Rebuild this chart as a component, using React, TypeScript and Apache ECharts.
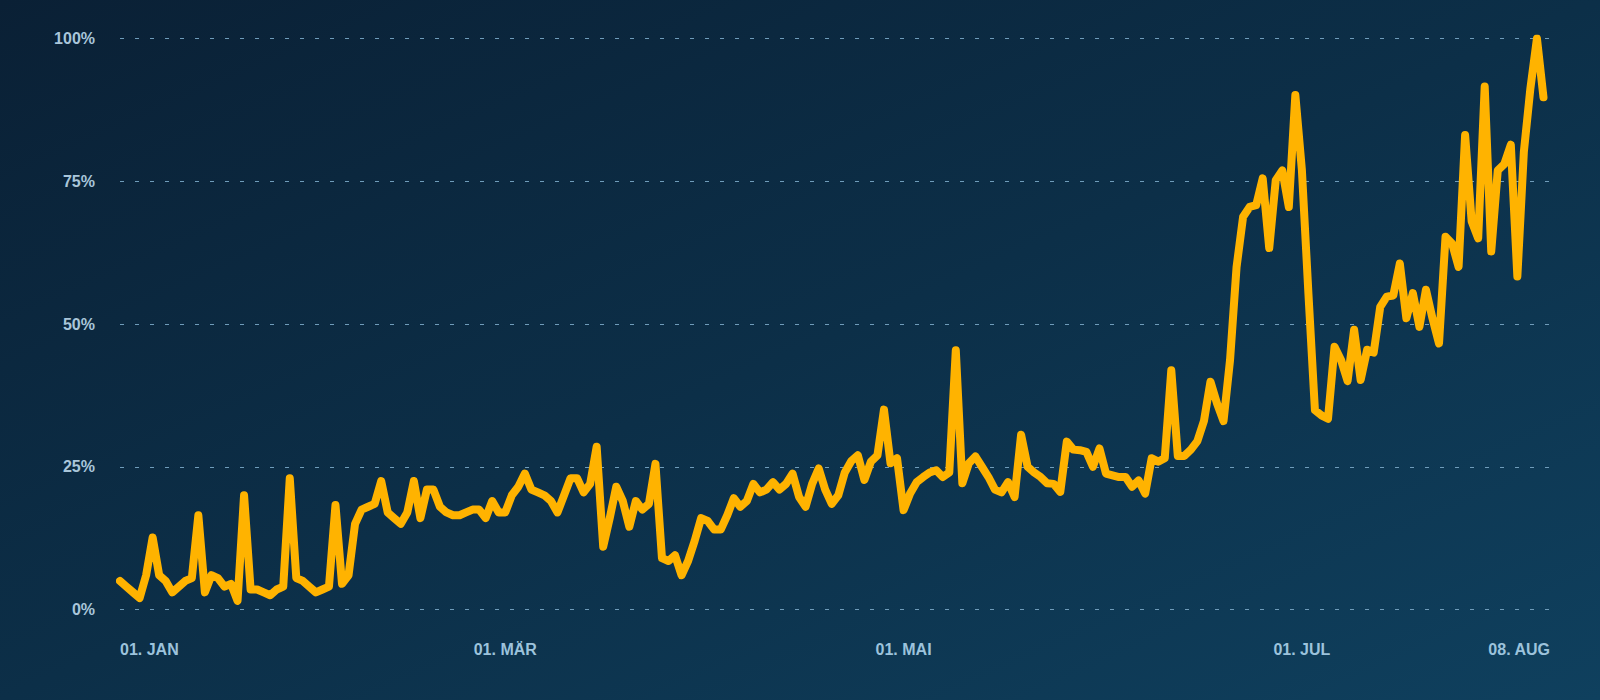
import React, { useEffect, useRef } from "react";
import * as echarts from "echarts";

// German month abbreviations and the number of days shown per month (Jan 1 – Aug 8)
const monthNames = ["JAN", "FEB", "MÄR", "APR", "MAI", "JUN", "JUL", "AUG"];
const monthDays = [31, 28, 31, 30, 31, 30, 31, 8];

// Tick labels shown on the x axis
const tickLabels = ["01. JAN", "01. MÄR", "01. MAI", "01. JUL", "08. AUG"];

// Y axis tick values (percent)
const yTicks = [0, 25, 50, 75, 100];

// Daily values (percent), Jan 1 – Aug 7
const values = [
  5, 4, 3, 2, 6, 12.6, 6, 5, 3, 4,
  5, 5.5, 16.5, 3, 6, 5.5, 4, 4.5, 1.5, 20,
  3.5, 3.5, 3, 2.5, 3.5, 4, 23, 5.5, 5, 4,
  3, 3.5, 4, 18.3, 4.5, 6, 15, 17.5, 18, 18.5,
  22.5, 17, 16, 15, 17, 22.5, 16, 21, 21, 18,
  17, 16.5, 16.5, 17, 17.5, 17.5, 16, 19, 17, 17,
  20, 21.5, 23.8, 21, 20.5, 20, 19, 17, 20, 23,
  23, 20.5, 22, 28.5, 11, 16, 21.5, 19, 14.5, 19,
  17.5, 18.5, 25.5, 9, 8.5, 9.5, 6, 8.5, 12, 16,
  15.5, 14, 14, 16.5, 19.5, 18, 19, 22, 20.5, 21,
  22.3, 21, 22, 23.8, 19.7, 18, 22, 24.7, 21, 18.5,
  20, 24, 26, 27, 22.7, 25.9, 27, 35, 25.6, 26.5,
  17.4, 20.3, 22.3, 23.2, 24, 24.4, 23.2, 24, 45.4, 22.1,
  25.6, 26.8, 25, 23.2, 21, 20.5, 22.3, 19.7, 30.6, 25,
  24, 23.2, 22.1, 22, 20.6, 29.4, 28, 27.9, 27.6, 25,
  28.2, 23.8, 23.5, 23.2, 23.2, 21.5, 22.6, 20.3, 26.5, 25.9,
  26.5, 41.9, 26.9, 26.9, 28, 29.5, 33, 39.9, 36.1, 33,
  43.7, 60, 68.8, 70.5, 70.8, 75.5, 63.3, 75.2, 76.9, 70.5,
  90.1, 77, 55.4, 34.9, 34, 33.4, 46, 43.7, 40, 49,
  40.2, 45.5, 45, 53, 54.8, 55, 60.6, 51, 55.4, 49.5,
  56, 51, 46.6, 65.3, 64.1, 60, 83.1, 68, 65, 91.6,
  62.7, 76.9, 78, 81.4, 58.3, 80.2, 91.3, 100, 89.7,
];

// Build the day categories ("01. JAN", "02. JAN", ...)
const categories: string[] = [];
monthNames.forEach((m, mi) => {
  for (let d = 1; d <= monthDays[mi]; d++) {
    categories.push(`${String(d).padStart(2, "0")}. ${m}`);
  }
});

export default function App() {
  const ref = useRef<HTMLDivElement>(null);

  useEffect(() => {
    if (!ref.current) return;
    const chart = echarts.init(ref.current, null, { renderer: "svg" });
    chart.setOption({
      animation: false,
      backgroundColor: new echarts.graphic.LinearGradient(0, 0, 1, 1, [
        { offset: 0, color: "#0a2035" },
        { offset: 0.5, color: "#0c2f48" },
        { offset: 1, color: "#0f405e" },
      ]),
      grid: {
        left: 120,
        right: 50,
        top: 38.5,
        bottom: 90.5,
        outerBoundsMode: "none",
      },
      xAxis: {
        type: "category",
        data: categories,
        boundaryGap: false,
        axisLine: { show: false },
        axisTick: { show: false },
        splitLine: { show: false },
        axisLabel: {
          interval: (i: number, v: string) => tickLabels.includes(v) && (i === 0 || v !== "01. JAN"),
          color: "#9cc3dc",
          fontSize: 16,
          fontWeight: "bold",
          fontFamily: "Liberation Sans, Arial, sans-serif",
          margin: 32,
          alignMinLabel: "left",
          alignMaxLabel: "right",
        },
      },
      yAxis: {
        type: "value",
        min: yTicks[0],
        max: yTicks[yTicks.length - 1],
        interval: yTicks[1] - yTicks[0],
        axisLine: { show: false },
        axisTick: { show: false },
        axisLabel: {
          formatter: "{value}%",
          color: "#a9c6da",
          fontSize: 16,
          fontWeight: "bold",
          fontFamily: "Liberation Sans, Arial, sans-serif",
          margin: 25,
        },
        splitLine: {
          show: true,
          lineStyle: { type: [4, 11], color: "#6f9cba", width: 1 },
        },
      },
      series: [
        {
          type: "line",
          data: values,
          showSymbol: false,
          symbol: "none",
          clip: true,
          lineStyle: { color: "#FFB300", width: 8, cap: "round", join: "round" },
        },
      ],
    });
    return () => chart.dispose();
  }, []);

  return (
    <div
      ref={ref}
      style={{ position: "fixed", left: 0, top: 0, width: 1600, height: 700 }}
    />
  );
}
